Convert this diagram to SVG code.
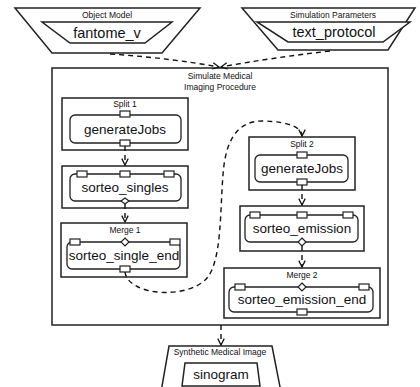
<svg xmlns="http://www.w3.org/2000/svg" width="420" height="387" viewBox="0 0 420 387">
<style>
text{font-family:"Liberation Sans",Arial,sans-serif;fill:#111;text-anchor:middle}
.lbl{font-size:8.5px}
.name{font-size:13.5px}
.big{font-size:14.5px}
.box{fill:#fff;stroke:#222;stroke-width:1.5}
.rr{fill:#fff;stroke:#222;stroke-width:1.3}
.port{fill:#fff;stroke:#222;stroke-width:1.2}
.dash{fill:none;stroke:#111;stroke-width:1.4;stroke-dasharray:5,4}
</style>
<defs>
<marker id="arr" viewBox="0 0 10 10" refX="9" refY="5" markerWidth="8" markerHeight="8" orient="auto" markerUnits="userSpaceOnUse">
<path d="M1,1 L9,5 L1,9" fill="none" stroke="#111" stroke-width="1.6"/>
</marker>
</defs>
<g id="object-model">
<polygon class="box" points="15,8 200,8 162,53 52,53"/>
<polygon class="box" points="42,22 172,22 145,43 70,43"/>
<text class="lbl" x="107" y="18">Object Model</text>
<text class="big" x="107" y="38">fantome_v</text>
</g>
<g id="simulation-parameters">
<polygon class="box" points="242,8 415,8 388,50 278,50"/>
<polygon class="box" points="257,22 410,22 383,42 288,42"/>
<text class="lbl" x="333" y="18">Simulation Parameters</text>
<text class="big" x="334" y="37">text_protocol</text>
</g>
<g id="simulate-procedure">
<rect class="box" x="52" y="68" width="336" height="257"/>
<text class="lbl" x="220" y="79">Simulate Medical</text>
<text class="lbl" x="220" y="90">Imaging Procedure</text>
</g>
<g id="split1">
<rect class="box" x="62" y="98" width="126" height="52"/>
<text class="lbl" x="125" y="107">Split 1</text>
<rect class="rr" x="70" y="115" width="111" height="28" rx="5"/>
<rect class="port" x="120" y="111" width="10" height="6"/>
<rect class="port" x="120" y="140" width="10" height="6"/>
<text class="name" x="125" y="134">generateJobs</text>
</g>
<g id="sorteo-singles">
<rect class="box" x="62" y="166" width="126" height="42"/>
<rect class="rr" x="70" y="174" width="111" height="27" rx="5"/>
<rect class="port" x="77" y="171" width="10" height="6"/>
<rect class="port" x="120" y="171" width="10" height="6"/>
<rect class="port" x="164" y="171" width="10" height="6"/>
<polygon class="port" points="125,198 129,201 125,204 121,201"/>
<text class="name" x="125" y="192">sorteo_singles</text>
</g>
<g id="merge1">
<rect class="box" x="61" y="223" width="126" height="54"/>
<text class="lbl" x="125" y="233">Merge 1</text>
<rect class="rr" x="67" y="242" width="113" height="27" rx="5"/>
<rect class="port" x="70" y="239" width="10" height="6"/>
<polygon class="port" points="125,238 129,242 125,246 121,242"/>
<rect class="port" x="170" y="239" width="10" height="6"/>
<rect class="port" x="120" y="266" width="10" height="6"/>
<text class="name" x="124" y="260">sorteo_single_end</text>
</g>
<g id="split2">
<rect class="box" x="249" y="137" width="106" height="53"/>
<text class="lbl" x="302" y="147">Split 2</text>
<rect class="rr" x="255" y="155" width="93" height="27" rx="5"/>
<rect class="port" x="297" y="152" width="10" height="6"/>
<rect class="port" x="297" y="179" width="10" height="6"/>
<text class="name" x="302" y="173">generateJobs</text>
</g>
<g id="sorteo-emission">
<rect class="box" x="240" y="206" width="124" height="45"/>
<rect class="rr" x="245" y="215" width="113" height="27" rx="5"/>
<rect class="port" x="250" y="212" width="10" height="6"/>
<rect class="port" x="297" y="212" width="10" height="6"/>
<rect class="port" x="343" y="212" width="10" height="6"/>
<polygon class="port" points="302,238 306,242 302,246 298,242"/>
<text class="name" x="302" y="233">sorteo_emission</text>
</g>
<g id="merge2">
<rect class="box" x="224" y="268" width="156" height="50"/>
<text class="lbl" x="302" y="278">Merge 2</text>
<rect class="rr" x="229" y="287" width="144" height="25" rx="5"/>
<rect class="port" x="235" y="284" width="10" height="6"/>
<polygon class="port" points="302,283 306,287 302,291 298,287"/>
<rect class="port" x="359" y="284" width="10" height="6"/>
<rect class="port" x="297" y="309" width="10" height="6"/>
<text class="name" x="302" y="304">sorteo_emission_end</text>
</g>
<g id="synthetic-image">
<polygon class="box" points="169,346 272,346 281,392 161,392"/>
<polygon class="box" points="185,363 257,363 260,386 182,386"/>
<text class="lbl" x="220" y="355">Synthetic Medical Image</text>
<text class="name" x="221" y="379">sinogram</text>
</g>
<g id="connectors">
<path class="dash" d="M110,54 Q170,58 219,67" marker-end="url(#arr)"/>
<path class="dash" d="M330,51 Q270,58 221,67" marker-end="url(#arr)"/>
<path class="dash" d="M125,146 L125,165" marker-end="url(#arr)"/>
<path class="dash" d="M125,204 L125,222" marker-end="url(#arr)"/>
<path class="dash" d="M125,272 C128,296 188,300 207,278 C222,260 220,210 223,175 C226,130 245,120 265,121 C290,122 302,128 302,136" marker-end="url(#arr)"/>
<path class="dash" d="M302,185 L302,205" marker-end="url(#arr)"/>
<path class="dash" d="M302,246 L302,267" marker-end="url(#arr)"/>
<path class="dash" d="M221,325 L221,345" marker-end="url(#arr)"/>
</g>
</svg>
